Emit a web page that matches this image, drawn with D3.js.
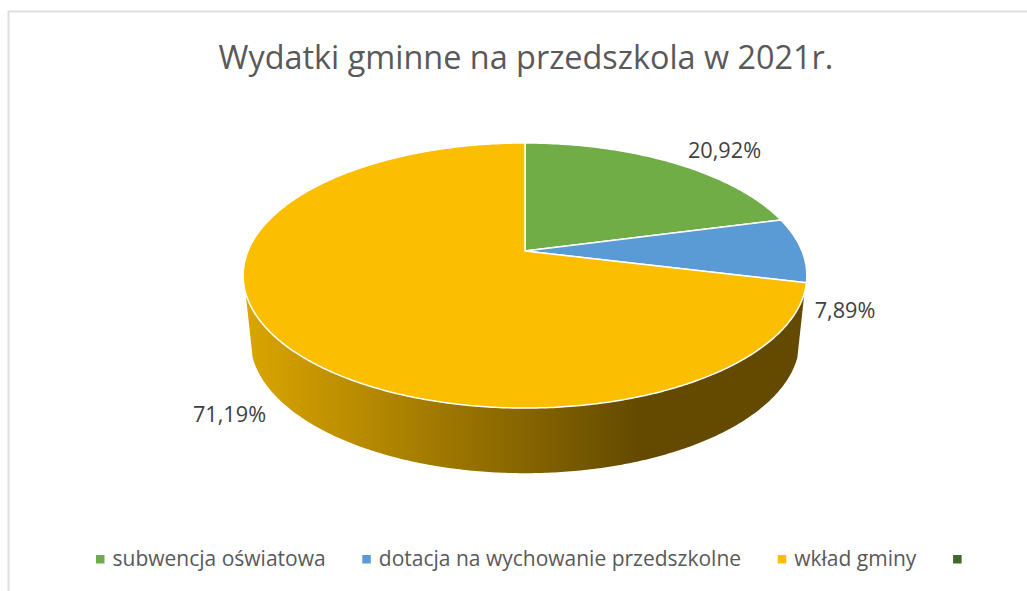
<!DOCTYPE html>
<html>
<head>
	<title>Wydatki gminne</title>
	<meta charset="utf-8">
	<script src="https://d3js.org/d3.v7.min.js"></script>
	<style>
		html, body {margin: 0; padding: 0; background: #fff; overflow: hidden}
		text {font-family: "Open Sans", sans-serif}
	</style>
</head>
<body>
	<script type="text/javascript">
		var width = 1027
		var height = 591

		var title = "Wydatki gminne na przedszkola w 2021r."
		var categories = ["subwencja oświatowa", "dotacja na wychowanie przedszkolne", "wkład gminy", ""]
		var values = [20.92, 7.89, 71.19, 0]
		var valueLabels = ["20,92%", "7,89%", "71,19%", ""]
		var colors = ["#70ad47", "#5b9bd5", "#fcbe00", "#43682b"]

		// centres of the data labels, they were dragged by hand in the original
		var labelX = [724.5, 845, 229.5]
		var labelY = [150, 310, 414]

		var svg = d3.select("body").append("svg")
			.attr("width", width)
			.attr("height", height)
			.style("display", "block")

		// chart frame: only top and left are inside the crop
		svg.append("path")
			.attr("d", "M8.5,591V11.5H1027")
			.attr("fill", "none")
			.attr("stroke", "#dedede")
			.attr("stroke-width", 2)

		svg.append("text")
			.attr("x", 526)
			.attr("y", 68.5)
			.attr("text-anchor", "middle")
			.attr("font-size", 32.4)
			.attr("fill", "#595959")
			.text(title)

		// perspective of the disc. u,v are on the unit circle, k tilts it
		var k = -0.185
		function project(disc, angle, r) {
			var u = r * Math.sin(angle)
			var v = -r * Math.cos(angle)
			var den = 1 + k * v
			return [disc.x + disc.a * u / den, disc.y + disc.b * v / den]
		}
		var topDisc = {x: 525, y: 251, a: 277, b: 128}
		var bottomDisc = {x: 525, y: 315.5, a: 270, b: 128.5}

		var line = d3.line()

		function rim(disc, a0, a1) {
			var n = Math.max(2, Math.ceil(Math.abs(a1 - a0) / 0.01))
			return d3.range(n + 1).map(function(i) {
				return project(disc, a0 + (a1 - a0) * i / n, 1)
			})
		}

		var slices = d3.pie().sort(null)(values)

		// side wall, the part of the rim turned to the viewer
		var wallFrom = 108 * Math.PI / 180
		var wallTo = 252 * Math.PI / 180

		var defs = svg.append("defs")
		var grad = defs.append("linearGradient")
			.attr("id", "wall")
			.attr("gradientUnits", "userSpaceOnUse")
			.attr("x1", 244).attr("x2", 806)
			.attr("y1", 0).attr("y2", 0)
		grad.append("stop").attr("offset", 0).attr("stop-color", "#dba600")
		grad.append("stop").attr("offset", 0.7).attr("stop-color", "#644a00")
		grad.append("stop").attr("offset", 1).attr("stop-color", "#644a00")

		svg.selectAll("path.wall")
			.data(slices.filter(function(d) {
				return d.endAngle > wallFrom && d.startAngle < wallTo
			}))
			.enter()
			.append("path")
			.attr("class", "wall")
			.attr("fill", "url(#wall)")
			.attr("d", function(d) {
				var a0 = Math.max(d.startAngle, wallFrom)
				var a1 = Math.min(d.endAngle, wallTo)
				return line(rim(topDisc, a0, a1).concat(rim(bottomDisc, a1, a0))) + "Z"
			})

		// top face
		svg.selectAll("path.slice")
			.data(slices.filter(function(d) {return d.value > 0}))
			.enter()
			.append("path")
			.attr("class", "slice")
			.attr("fill", function(d) {return colors[d.index]})
			.attr("stroke", "#fff")
			.attr("stroke-width", 1.5)
			.attr("stroke-linejoin", "round")
			.attr("d", function(d) {
				return line([project(topDisc, 0, 0)].concat(rim(topDisc, d.startAngle, d.endAngle))) + "Z"
			})

		svg.selectAll("text.value")
			.data(valueLabels.filter(function(d) {return d != ""}))
			.enter()
			.append("text")
			.attr("class", "value")
			.attr("x", function(d, i) {return labelX[i]})
			.attr("y", function(d, i) {return labelY[i] + 7.5})
			.attr("text-anchor", "middle")
			.attr("font-size", 21.7)
			.attr("fill", "#404040")
			.text(function(d) {return d})

		// legend flows left to right like the original one
		var legendX = 96
		categories.forEach(function(name, i) {
			svg.append("rect")
				.attr("x", legendX)
				.attr("y", 555)
				.attr("width", 8.5)
				.attr("height", 8.5)
				.attr("fill", colors[i])
			var t = svg.append("text")
				.attr("x", legendX + 16.5)
				.attr("y", 566)
				.attr("font-size", 21)
				.attr("fill", "#595959")
				.text(name)
			legendX += 16.5 + t.node().getComputedTextLength() + 36.7
		})
	</script>
</body>
</html>
